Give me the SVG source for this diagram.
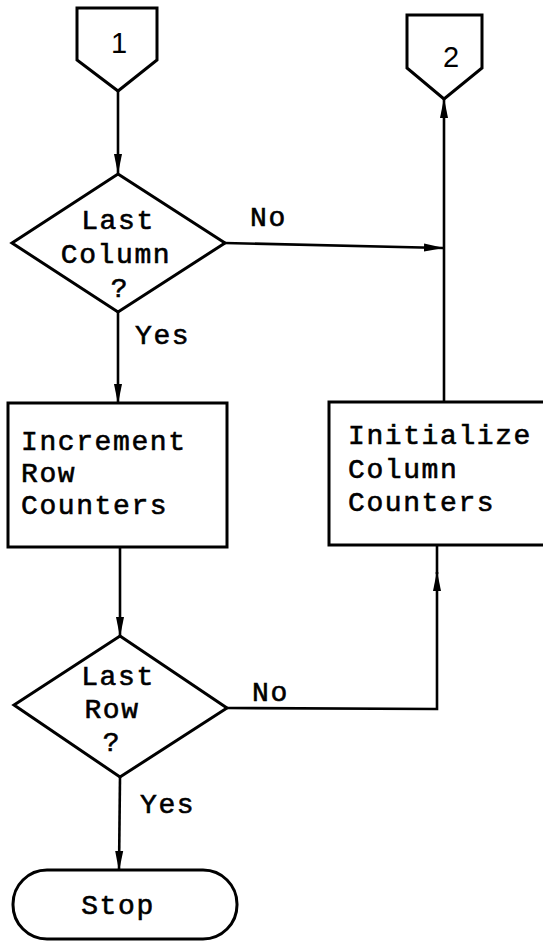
<svg xmlns="http://www.w3.org/2000/svg" width="543" height="947" viewBox="0 0 543 947">
  <style>
    .shape { fill: #ffffff; stroke: #000000; stroke-width: 3; stroke-linejoin: miter; }
    .wire { fill: none; stroke: #000000; stroke-width: 2.6; }
    .txt { font-family: "Liberation Mono", "DejaVu Sans Mono", monospace; font-size: 28px; letter-spacing: 1.6px; fill: #000000; stroke: #000000; stroke-width: 0.6; }
    .num { font-family: "Liberation Sans", "DejaVu Sans", sans-serif; font-size: 29px; fill: #000000; text-anchor: middle; }
    .mid { text-anchor: middle; }
  </style>
  <defs>
    <marker id="arrow" viewBox="0 0 20 10" refX="19" refY="5" markerWidth="20" markerHeight="10" markerUnits="userSpaceOnUse" orient="auto">
      <path d="M0,1 L20,5 L0,9 Z" fill="#000000"/>
    </marker>
  </defs>

  <rect width="543" height="947" fill="#ffffff"/>

  <!-- connectors -->
  <g id="connectors">
    <!-- 1 -> Last Column? -->
    <path class="wire" d="M118,91 L118,173" marker-end="url(#arrow)"/>
    <!-- Last Column? No -> 2 -->
    <path class="wire" d="M225,243 L443,248" marker-end="url(#arrow)"/>
    <path class="wire" d="M444,402 L444,99" marker-end="url(#arrow)"/>
    <!-- Last Column? Yes -> Increment -->
    <path class="wire" d="M118,312 L118,403" marker-end="url(#arrow)"/>
    <!-- Increment -> Last Row? -->
    <path class="wire" d="M120,547 L120,636" marker-end="url(#arrow)"/>
    <!-- Last Row? No -> Initialize -->
    <path class="wire" d="M227,708 L437,709 L437,572" marker-end="url(#arrow)"/>
    <path class="wire" d="M437,574 L437,545"/>
    <!-- Last Row? Yes -> Stop -->
    <path class="wire" d="M120,777 L119,870" marker-end="url(#arrow)"/>
  </g>

  <!-- edge labels -->
  <g id="labels">
    <text class="txt" x="250" y="226">No</text>
    <text class="txt" x="135" y="344">Yes</text>
    <text class="txt" x="252" y="701">No</text>
    <text class="txt" x="140" y="813">Yes</text>
  </g>

  <g id="offpage1">
    <path class="shape" d="M77,8 L157,8 L157,60 L118,91 L77,60 Z"/>
    <text class="num" x="119" y="53">1</text>
  </g>

  <g id="offpage2">
    <path class="shape" d="M407,15 L482,15 L482,68 L444,99 L407,68 Z"/>
    <text class="num" x="451" y="67">2</text>
  </g>

  <g id="lastColumn">
    <path class="shape" d="M118,174 L225,243 L118,312 L12,243 Z"/>
    <text class="txt mid" x="118" y="229">Last</text>
    <text class="txt mid" x="116" y="263">Column</text>
    <text class="txt mid" x="120" y="297">?</text>
  </g>

  <g id="incrementRow">
    <rect class="shape" x="8" y="403" width="219" height="144"/>
    <text class="txt" x="21" y="450">Increment</text>
    <text class="txt" x="21" y="482">Row</text>
    <text class="txt" x="21" y="514">Counters</text>
  </g>

  <g id="initializeColumn">
    <rect class="shape" x="329" y="402" width="240" height="143"/>
    <text class="txt" x="348" y="444">Initialize</text>
    <text class="txt" x="348" y="478">Column</text>
    <text class="txt" x="348" y="511">Counters</text>
  </g>

  <g id="lastRow">
    <path class="shape" d="M120,636 L227,708 L120,777 L14,705 Z"/>
    <text class="txt mid" x="118" y="685">Last</text>
    <text class="txt mid" x="112" y="718">Row</text>
    <text class="txt mid" x="112" y="751">?</text>
  </g>

  <g id="stop">
    <rect class="shape" x="13" y="870" width="224" height="69" rx="34" ry="34"/>
    <text class="txt mid" x="118" y="914" letter-spacing="4">Stop</text>
  </g>
</svg>
